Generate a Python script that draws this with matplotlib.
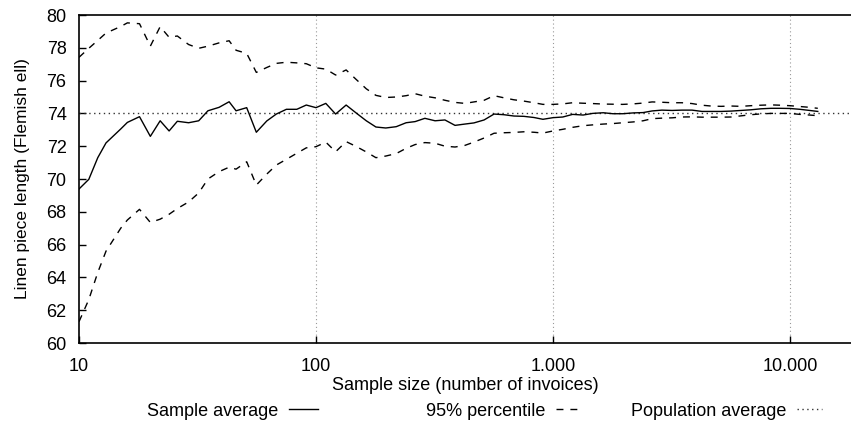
import matplotlib
matplotlib.use("Agg")
import matplotlib.pyplot as plt
from matplotlib.lines import Line2D
from matplotlib.ticker import FixedLocator, FixedFormatter

plt.rcParams["font.family"] = ["Liberation Sans", "DejaVu Sans"]

# sample sizes (number of invoices)
sizes = [10, 11, 12, 13, 15, 16, 18, 20, 22, 24, 26, 29, 32, 35, 39, 43,
         46, 51, 56, 62, 68, 75, 83, 91,
         100, 110, 121, 134, 147, 163, 179, 197, 218, 240, 262, 288, 318,
         350, 386, 425, 464, 512, 564, 621, 684, 754, 831, 907,
         1000, 1100, 1210, 1340, 1470, 1630, 1790, 1970, 2180, 2400, 2620,
         2880, 3180, 3500, 3860, 4250, 4640, 5120, 5640, 6210, 6840, 7540,
         8310, 9070, 10000, 11000, 12100, 13100]

sample_avg = [69.39, 69.98, 71.3, 72.2, 73.05, 73.45, 73.80, 72.6, 73.55, 72.93,
              73.52, 73.43, 73.55, 74.16, 74.37, 74.71, 74.16, 74.35, 72.85, 73.54,
              73.96, 74.25, 74.25, 74.51, 74.35, 74.61, 73.96, 74.51, 74.05, 73.55,
              73.17, 73.11, 73.19, 73.43, 73.5, 73.7, 73.55, 73.6, 73.27, 73.35,
              73.42, 73.6, 73.96, 73.92, 73.84, 73.82, 73.75, 73.64, 73.74, 73.78,
              73.94, 73.9, 74.0, 74.04, 73.98, 73.98, 74.03, 74.05, 74.15, 74.2,
              74.18, 74.2, 74.2, 74.12, 74.12, 74.12, 74.14, 74.18, 74.22, 74.28,
              74.31, 74.31, 74.3, 74.25, 74.18, 74.12]

upper_95 = [77.42, 77.97, 78.45, 78.9, 79.3, 79.52, 79.47, 78.1, 79.29, 78.64,
            78.72, 78.2, 77.97, 78.1, 78.3, 78.43, 77.85, 77.66, 76.5, 76.8,
            77.05, 77.12, 77.08, 77.03, 76.78, 76.7, 76.34, 76.65, 76.1, 75.5,
            75.1, 74.97, 75.0, 75.08, 75.2, 75.05, 74.95, 74.8, 74.67, 74.61,
            74.7, 74.8, 75.08, 74.95, 74.83, 74.75, 74.65, 74.55, 74.55, 74.58,
            74.65, 74.62, 74.6, 74.57, 74.56, 74.55, 74.58, 74.63, 74.7, 74.68,
            74.65, 74.65, 74.6, 74.5, 74.45, 74.43, 74.45, 74.43, 74.47, 74.5,
            74.52, 74.5, 74.47, 74.42, 74.37, 74.31]

lower_95 = [61.3, 62.65, 64.3, 65.6, 67.0, 67.5, 68.15, 67.35, 67.55, 67.85,
            68.2, 68.6, 69.15, 70.0, 70.45, 70.72, 70.6, 71.05, 69.63, 70.3,
            70.85, 71.2, 71.57, 71.9, 71.97, 72.25, 71.66, 72.28, 72.0, 71.65,
            71.3, 71.4, 71.55, 71.87, 72.1, 72.22, 72.18, 72.0, 71.95, 72.05,
            72.25, 72.5, 72.79, 72.82, 72.84, 72.88, 72.85, 72.8, 72.93, 73.03,
            73.15, 73.25, 73.3, 73.35, 73.38, 73.43, 73.48, 73.55, 73.68, 73.71,
            73.73, 73.78, 73.79, 73.77, 73.77, 73.77, 73.78, 73.85, 73.92, 73.97,
            74.0, 74.0, 74.0, 73.94, 73.9, 73.86]

population_avg = 74.05

x_ticks = [10, 100, 1000, 10000]
x_tick_labels = ["10", "100", "1.000", "10.000"]
y_ticks = [60, 62, 64, 66, 68, 70, 72, 74, 76, 78, 80]

W, H = 851, 436
fs = 13

fig = plt.figure(figsize=(W / 100, H / 100), dpi=100)
ax = fig.add_axes([79 / W, 1 - 343 / H, 1 - 79 / W, (343 - 15) / H])

ax.set_xscale("log")
ax.set_xlim(10, 18090)
ax.set_ylim(60, 80)

for xv in x_ticks[1:]:
    ax.axvline(xv, color="#999999", lw=0.8, linestyle=(0, (1, 2.5)), zorder=1)

dashed = (0, (5, 5))
dotted = (0, (1, 2.5))
ax.plot(sizes, sample_avg, color="black", lw=1.0, zorder=3)
ax.plot(sizes, upper_95, color="black", lw=1.0, linestyle=dashed, zorder=3)
ax.plot(sizes, lower_95, color="black", lw=1.0, linestyle=dashed, zorder=3)
ax.axhline(population_avg, color="#333333", lw=1.0, linestyle=dotted, zorder=2)

ax.xaxis.set_major_locator(FixedLocator(x_ticks))
ax.xaxis.set_major_formatter(FixedFormatter(x_tick_labels))
ax.xaxis.set_minor_locator(FixedLocator([]))
ax.set_yticks(y_ticks)
ax.tick_params(axis="both", direction="in", length=5, width=1.0, labelsize=fs)
ax.tick_params(axis="y", pad=9)
ax.tick_params(axis="x", pad=11)

ax.spines["right"].set_visible(False)
for s in ["left", "top", "bottom"]:
    ax.spines[s].set_linewidth(1.2)

ax.set_xlabel("Sample size (number of invoices)", fontsize=fs, labelpad=1)
ax.set_ylabel("Linen piece length (Flemish ell)", fontsize=12.5, labelpad=12)

# key: text right-aligned, sample to the right, equal-width columns
key_items = [
    ("Sample average", "-", "black", 1.6, 318),
    ("95% percentile", dashed, "black", 1.2, 578),
    ("Population average", dotted, "#333333", 1.4, 822),
]
for label, style, col, hlen, right_px in key_items:
    h = Line2D([], [], color=col, lw=1.0, linestyle=style)
    fig.legend([h], [label], loc="center right",
               bbox_to_anchor=(right_px / W, 1 - 411 / H),
               frameon=False, markerfirst=False, fontsize=fs,
               handlelength=hlen, handletextpad=0.6, borderpad=0,
               borderaxespad=0)

fig.savefig("out.png", dpi=100)
